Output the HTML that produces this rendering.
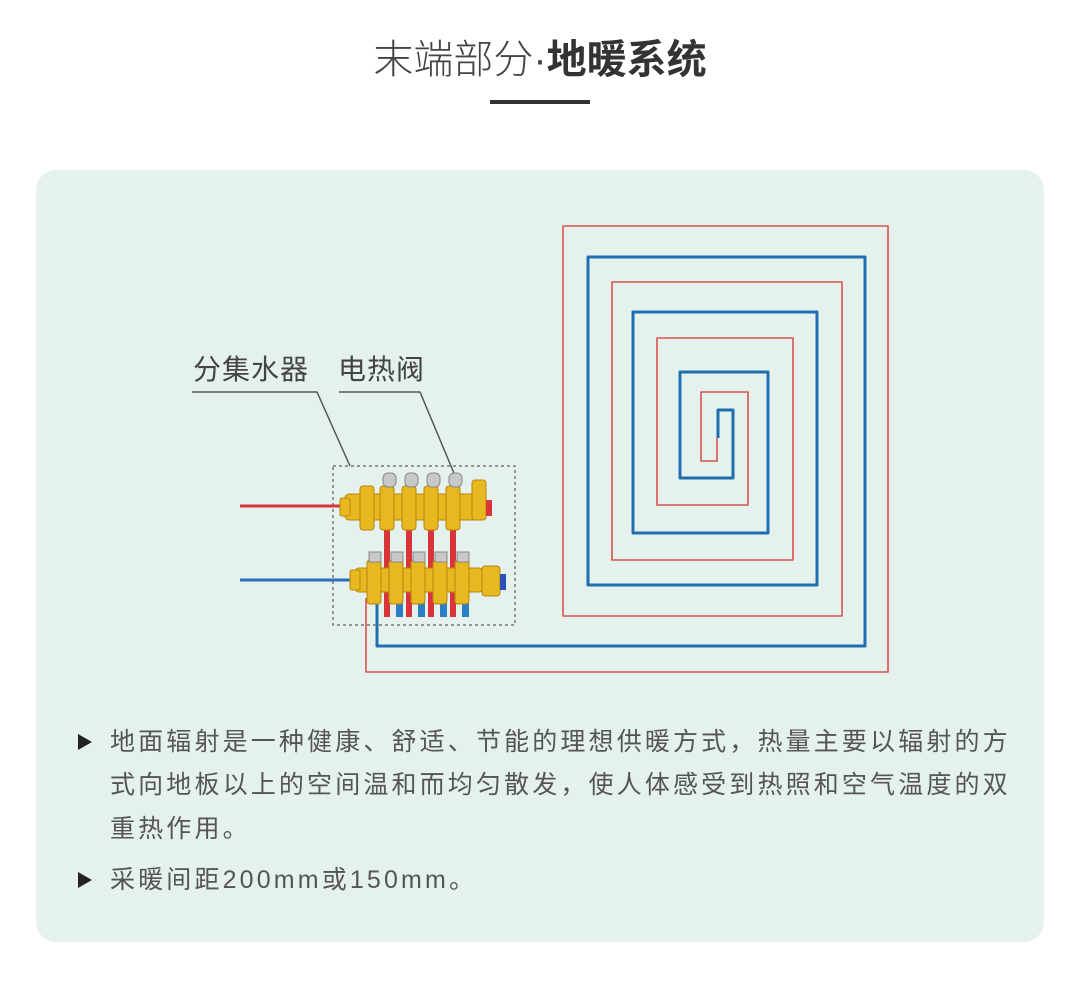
<!DOCTYPE html>
<html><head><meta charset="utf-8"><style>
html,body{margin:0;padding:0;background:#fff;}
body{width:1080px;height:1005px;position:relative;overflow:hidden;font-family:"Liberation Sans","Noto Sans CJK SC",sans-serif;}
.title{position:absolute;top:30px;left:0;width:1080px;text-align:center;font-size:40px;color:#444;line-height:60px;}
.title b{color:#333;font-weight:bold;}
.bar{position:absolute;left:490px;top:100px;width:100px;height:4px;background:#333;}
.card{position:absolute;left:36px;top:170px;width:1008px;height:772px;background:#e4f1ec;border-radius:20px;}
.txt{position:absolute;left:110px;font-size:25px;color:#555;letter-spacing:3.15px;white-space:nowrap;line-height:30px;}
.tri{position:absolute;left:78px;width:0;height:0;border-left:14px solid #222;border-top:8px solid transparent;border-bottom:8px solid transparent;}
.lbl{position:absolute;font-size:28px;color:#444;line-height:30px;letter-spacing:1px;}
</style></head><body>
<div class="title"><span style="font-weight:300">末端部分·</span><b>地暖系统</b></div>
<div class="bar"></div>
<div class="card"></div>
<svg style="position:absolute;left:0;top:0" width="1080" height="1005">
<g fill="none" stroke-linejoin="round">
<path d="M366 598 V672 H888 V226 H563 V616 H842 V282 H612 V560 H793 V338 H657 V505 H748 V392 H701 V461 H717 V438" stroke="#d9534f" stroke-width="1.6"/>
<path d="M377 600 V646 H865 V257 H588 V585 H817 V312 H633 V533 H768 V372 H680 V478 H733 V410 H718 V438" stroke="#1f6fb0" stroke-width="3"/>
<path d="M192 392 H317 L350 466" stroke="#555" stroke-width="1.5"/>
<path d="M339 392 H420 L456 478" stroke="#555" stroke-width="1.5"/>
<rect x="333" y="466" width="182" height="159" stroke="#777" stroke-width="1.5" stroke-dasharray="3,3"/>
<line x1="240" y1="506" x2="345" y2="506" stroke="#d9343a" stroke-width="3"/>
<line x1="240" y1="580" x2="355" y2="580" stroke="#2a6fb8" stroke-width="3"/>
</g>
<g fill="#d9343a"><rect x="384" y="525" width="6" height="92"/><rect x="406" y="525" width="6" height="92"/><rect x="428" y="525" width="6" height="92"/><rect x="450" y="525" width="6" height="92"/></g>
<g fill="#2a7fc8"><rect x="396" y="595" width="7" height="22"/><rect x="418" y="595" width="7" height="22"/><rect x="440" y="595" width="7" height="22"/><rect x="462" y="595" width="7" height="22"/></g>
<g fill="#e8b820" stroke="#b8860b" stroke-width="1">
<rect x="345" y="494" width="135" height="26" rx="4"/>
<rect x="340" y="498" width="10" height="18" rx="2"/>
<rect x="360" y="486" width="14" height="44" rx="3"/>
<rect x="380" y="486" width="14" height="44" rx="3"/>
<rect x="402" y="486" width="14" height="44" rx="3"/>
<rect x="424" y="486" width="14" height="44" rx="3"/>
<rect x="446" y="486" width="14" height="44" rx="3"/>
<rect x="472" y="480" width="14" height="40" rx="3"/>
<rect x="355" y="568" width="128" height="24" rx="4"/>
<rect x="350" y="570" width="10" height="20" rx="2"/>
<rect x="367" y="560" width="14" height="44" rx="3"/>
<rect x="389" y="560" width="14" height="44" rx="3"/>
<rect x="411" y="560" width="14" height="44" rx="3"/>
<rect x="433" y="560" width="14" height="44" rx="3"/>
<rect x="455" y="560" width="14" height="44" rx="3"/>
<rect x="482" y="566" width="18" height="30" rx="3"/>
</g>
<g fill="#c8c8c8" stroke="#888" stroke-width="1">
<rect x="383" y="473" width="13" height="14" rx="5"/><rect x="405" y="473" width="13" height="14" rx="5"/><rect x="427" y="473" width="13" height="14" rx="5"/><rect x="449" y="473" width="13" height="14" rx="5"/>
<rect x="369" y="552" width="12" height="10"/><rect x="391" y="552" width="12" height="10"/><rect x="413" y="552" width="12" height="10"/><rect x="435" y="552" width="12" height="10"/><rect x="457" y="552" width="12" height="10"/>
</g>
<rect x="486" y="500" width="6" height="16" fill="#d9343a"/>
<rect x="500" y="574" width="6" height="16" fill="#2a4fb8"/>
</svg>
<div class="lbl" style="left:193px;top:355px">分集水器</div>
<div class="lbl" style="left:338px;top:355px">电热阀</div>
<div class="tri" style="top:734px"></div>
<div class="txt" style="top:727px">地面辐射是一种健康、舒适、节能的理想供暖方式，热量主要以辐射的方</div>
<div class="txt" style="top:770px">式向地板以上的空间温和而均匀散发，使人体感受到热照和空气温度的双</div>
<div class="txt" style="top:814px">重热作用。</div>
<div class="tri" style="top:872px"></div>
<div class="txt" style="top:865px">采暖间距200mm或150mm。</div>
</body></html>
